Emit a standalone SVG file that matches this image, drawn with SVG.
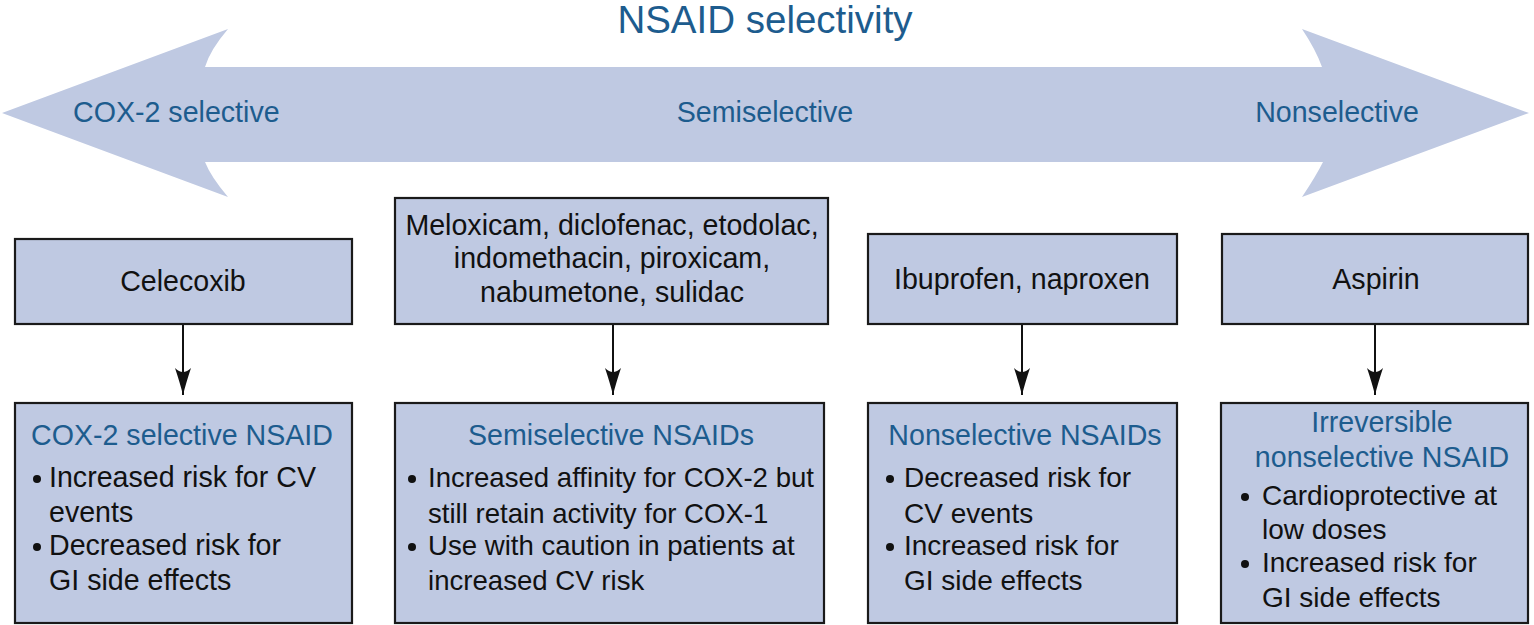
<svg xmlns="http://www.w3.org/2000/svg" width="1534" height="625" viewBox="0 0 1534 625">
<defs>
<style>
.box{fill:#bfc9e2;stroke:#1a1a1a;stroke-width:2.2}
.t{font-family:"Liberation Sans",Arial,sans-serif;font-size:28.6px;fill:#111}
.b{font-family:"Liberation Sans",Arial,sans-serif;font-size:28.6px;fill:#1d5c8e}
.m{text-anchor:middle}
.s{font-size:27.6px}
.n{font-size:28px}
.conn{stroke:#111;stroke-width:2;fill:none}
.dot{fill:#111}
</style>
<marker id="ah" markerUnits="userSpaceOnUse" markerWidth="30" markerHeight="20" viewBox="-28 -10 30 20" refX="0" refY="0" orient="auto">
<path d="M0,0 Q-12,-3 -27,-8 Q-19,0 -27,8 Q-12,3 0,0 Z" fill="#111"/>
</marker>
</defs>
<rect width="1534" height="625" fill="#ffffff"/>
<g id="selectivity-arrow">
<path d="M2,113 L228,29 Q210,50 205,67 L1322,67 Q1316,50 1302,29 L1529,113 L1302,197 Q1316,176 1323,162 L205,162 Q211,177 228,197 Z" fill="#bfc9e2"/>
<text class="b m" x="765" y="33" style="font-size:38.5px">NSAID selectivity</text>
<text class="b" x="73" y="122">COX-2 selective</text>
<text class="b m" x="765" y="122">Semiselective</text>
<text class="b m" x="1337" y="122">Nonselective</text>
</g>
<g id="connectors">
<path class="conn" d="M183,324 V395" marker-end="url(#ah)"/>
<path class="conn" d="M613,324 V395" marker-end="url(#ah)"/>
<path class="conn" d="M1022,324 V395" marker-end="url(#ah)"/>
<path class="conn" d="M1375,324 V395" marker-end="url(#ah)"/>
</g>
<g id="celecoxib">
<rect class="box" x="15" y="239" width="337" height="85"/>
<text class="t m" x="183" y="291">Celecoxib</text>
</g>
<g id="semiselective-drugs">
<rect class="box" x="395" y="198" width="433" height="126"/>
<text class="t m" x="612" y="235">Meloxicam, diclofenac, etodolac,</text>
<text class="t m" x="612" y="268">indomethacin, piroxicam,</text>
<text class="t m" x="612" y="302">nabumetone, sulidac</text>
</g>
<g id="nonselective-drugs">
<rect class="box" x="868" y="234" width="309" height="90"/>
<text class="t m" x="1022" y="289">Ibuprofen, naproxen</text>
</g>
<g id="aspirin">
<rect class="box" x="1222" y="234" width="306" height="90"/>
<text class="t m" x="1376" y="289">Aspirin</text>
</g>
<g id="cox2-nsaid">
<rect class="box" x="15" y="403" width="337" height="220"/>
<text class="b m" x="182" y="445">COX-2 selective NSAID</text>
<circle class="dot" cx="37" cy="479" r="4"/>
<text class="t" x="49" y="487">Increased risk for CV</text>
<text class="t" x="49" y="522">events</text>
<circle class="dot" cx="37" cy="547" r="4"/>
<text class="t" x="49" y="555">Decreased risk for</text>
<text class="t" x="49" y="590">GI side effects</text>
</g>
<g id="semiselective-nsaids">
<rect class="box" x="395" y="403" width="429" height="220"/>
<text class="b m" x="611" y="445">Semiselective NSAIDs</text>
<circle class="dot" cx="412" cy="479" r="4"/>
<text class="t s" x="428" y="487">Increased affinity for COX-2 but</text>
<text class="t s" x="428" y="523">still retain activity for COX-1</text>
<circle class="dot" cx="412" cy="547" r="4"/>
<text class="t s" x="428" y="555">Use with caution in patients at</text>
<text class="t s" x="428" y="590">increased CV risk</text>
</g>
<g id="nonselective-nsaids">
<rect class="box" x="868" y="403" width="309" height="220"/>
<text class="b m" x="1025" y="445">Nonselective NSAIDs</text>
<circle class="dot" cx="890" cy="479" r="4"/>
<text class="t n" x="904" y="487">Decreased risk for</text>
<text class="t n" x="904" y="523">CV events</text>
<circle class="dot" cx="890" cy="547" r="4"/>
<text class="t n" x="904" y="555">Increased risk for</text>
<text class="t n" x="904" y="590">GI side effects</text>
</g>
<g id="irreversible-nsaid">
<rect class="box" x="1221" y="403" width="307" height="220"/>
<text class="b m" x="1382" y="432">Irreversible</text>
<text class="b m" x="1382" y="467">nonselective NSAID</text>
<circle class="dot" cx="1245" cy="497" r="4"/>
<text class="t n" x="1262" y="505">Cardioprotective at</text>
<text class="t n" x="1262" y="539">low doses</text>
<circle class="dot" cx="1245" cy="564" r="4"/>
<text class="t n" x="1262" y="572">Increased risk for</text>
<text class="t n" x="1262" y="607">GI side effects</text>
</g>
</svg>
